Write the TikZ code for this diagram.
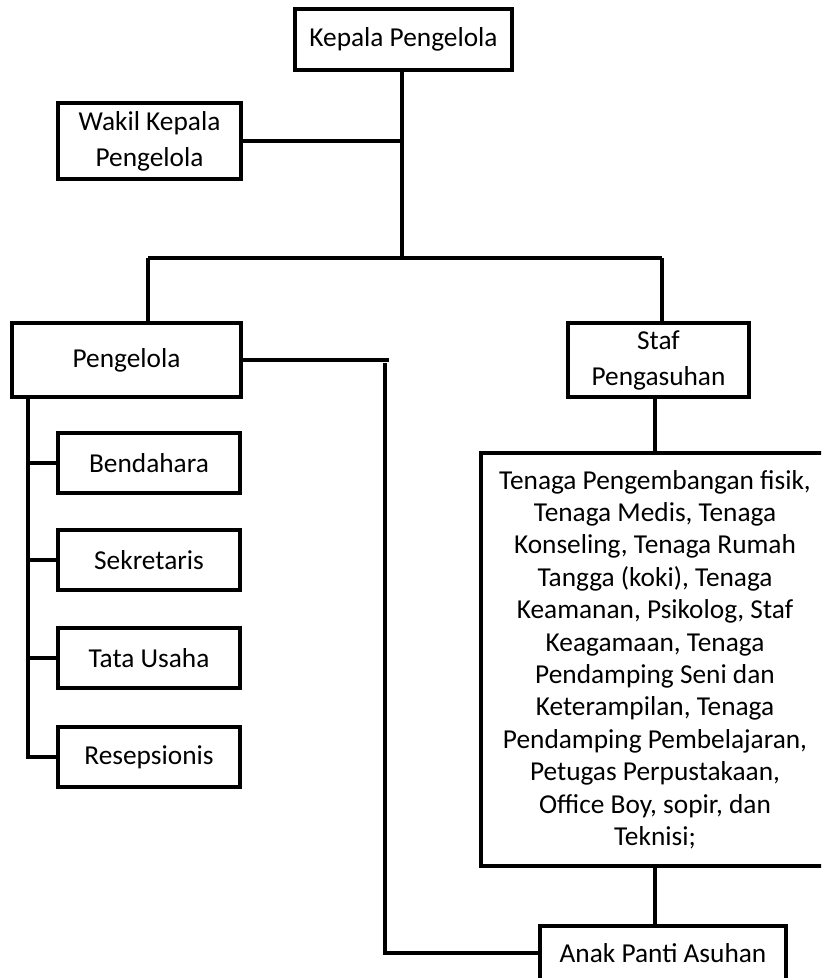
\documentclass[tikz,border=0pt]{standalone}
\usepackage{fontspec}
\setmainfont{Carlito}

\begin{document}
\begin{tikzpicture}[x=0.75pt, y=-0.75pt,
    box/.style={draw, line width=2.6pt, align=center, inner sep=2pt,
      font=\fontsize{20.5pt}{27pt}\selectfont},
    link/.style={line width=2.5pt}]
  \useasboundingbox (0,0) rectangle (821,978);
  \clip (0,0) rectangle (821,978);

  \node[box, minimum width=162.75pt, minimum height=45.75pt] (kepala) at (403.5,39.5) {Kepala Pengelola};
  \node[box, minimum width=137.25pt, minimum height=57pt] (wakil) at (149.5,141) {Wakil Kepala\\Pengelola};
  \node[box, minimum width=171.75pt, minimum height=55.5pt] (pengelola) at (126.5,360) {Pengelola};
  \node[box, minimum width=135.75pt, minimum height=55.5pt] (staf) at (658.5,360) {Staf\\Pengasuhan};

  \node[box, minimum width=136.5pt, minimum height=45pt] (bendahara) at (149,463) {Bendahara};
  \node[box, minimum width=136.5pt, minimum height=45pt] (sekretaris) at (149,560) {Sekretaris};
  \node[box, minimum width=136.5pt, minimum height=45pt] (tatausaha) at (149,658) {Tata Usaha};
  \node[box, minimum width=136.5pt, minimum height=45pt] (resepsionis) at (149,757) {Resepsionis};

  \node[box, minimum width=261pt, minimum height=309.75pt, font=\fontsize{20.5pt}{24.3pt}\selectfont] (tenaga) at (655,659.5)
    {Tenaga Pengembangan fisik,\\Tenaga Medis, Tenaga\\Konseling, Tenaga Rumah\\Tangga (koki), Tenaga\\Keamanan, Psikolog, Staf\\Keagamaan, Tenaga\\Pendamping Seni dan\\Keterampilan, Tenaga\\Pendamping Pembelajaran,\\Petugas Perpustakaan,\\Office Boy, sopir, dan\\Teknisi;};
  \node[box, minimum width=184.5pt, minimum height=40.5pt] (anak) at (663,953) {Anak Panti Asuhan};

  \coordinate (split) at (402,258);
  \coordinate (lj) at (148,258);
  \coordinate (rj) at (662,258);
  \coordinate (elbow) at (385,363);
  \coordinate (spine) at (28,397);

  \draw[link] (kepala.south -| split) -- (split);
  \draw[link] (wakil.east) -- (wakil.east -| split);
  \draw[link] (lj) -- (rj);
  \draw[link] (lj) -- (lj |- pengelola.north);
  \draw[link] (rj) -- (rj |- staf.north);
  \draw[link] (tenaga.north |- staf.south) -- (tenaga.north);
  \draw[link] (tenaga.south) -- (tenaga.south |- anak.north);

  \draw[link] (pengelola.east) -- ++(146,0);
  \draw[link] (elbow) |- (anak.west);

  \draw[link] (spine) |- (resepsionis.west);
  \foreach \n in {bendahara,sekretaris,tatausaha}
    \draw[link] (spine |- \n.west) -- (\n.west);
\end{tikzpicture}
\end{document}
